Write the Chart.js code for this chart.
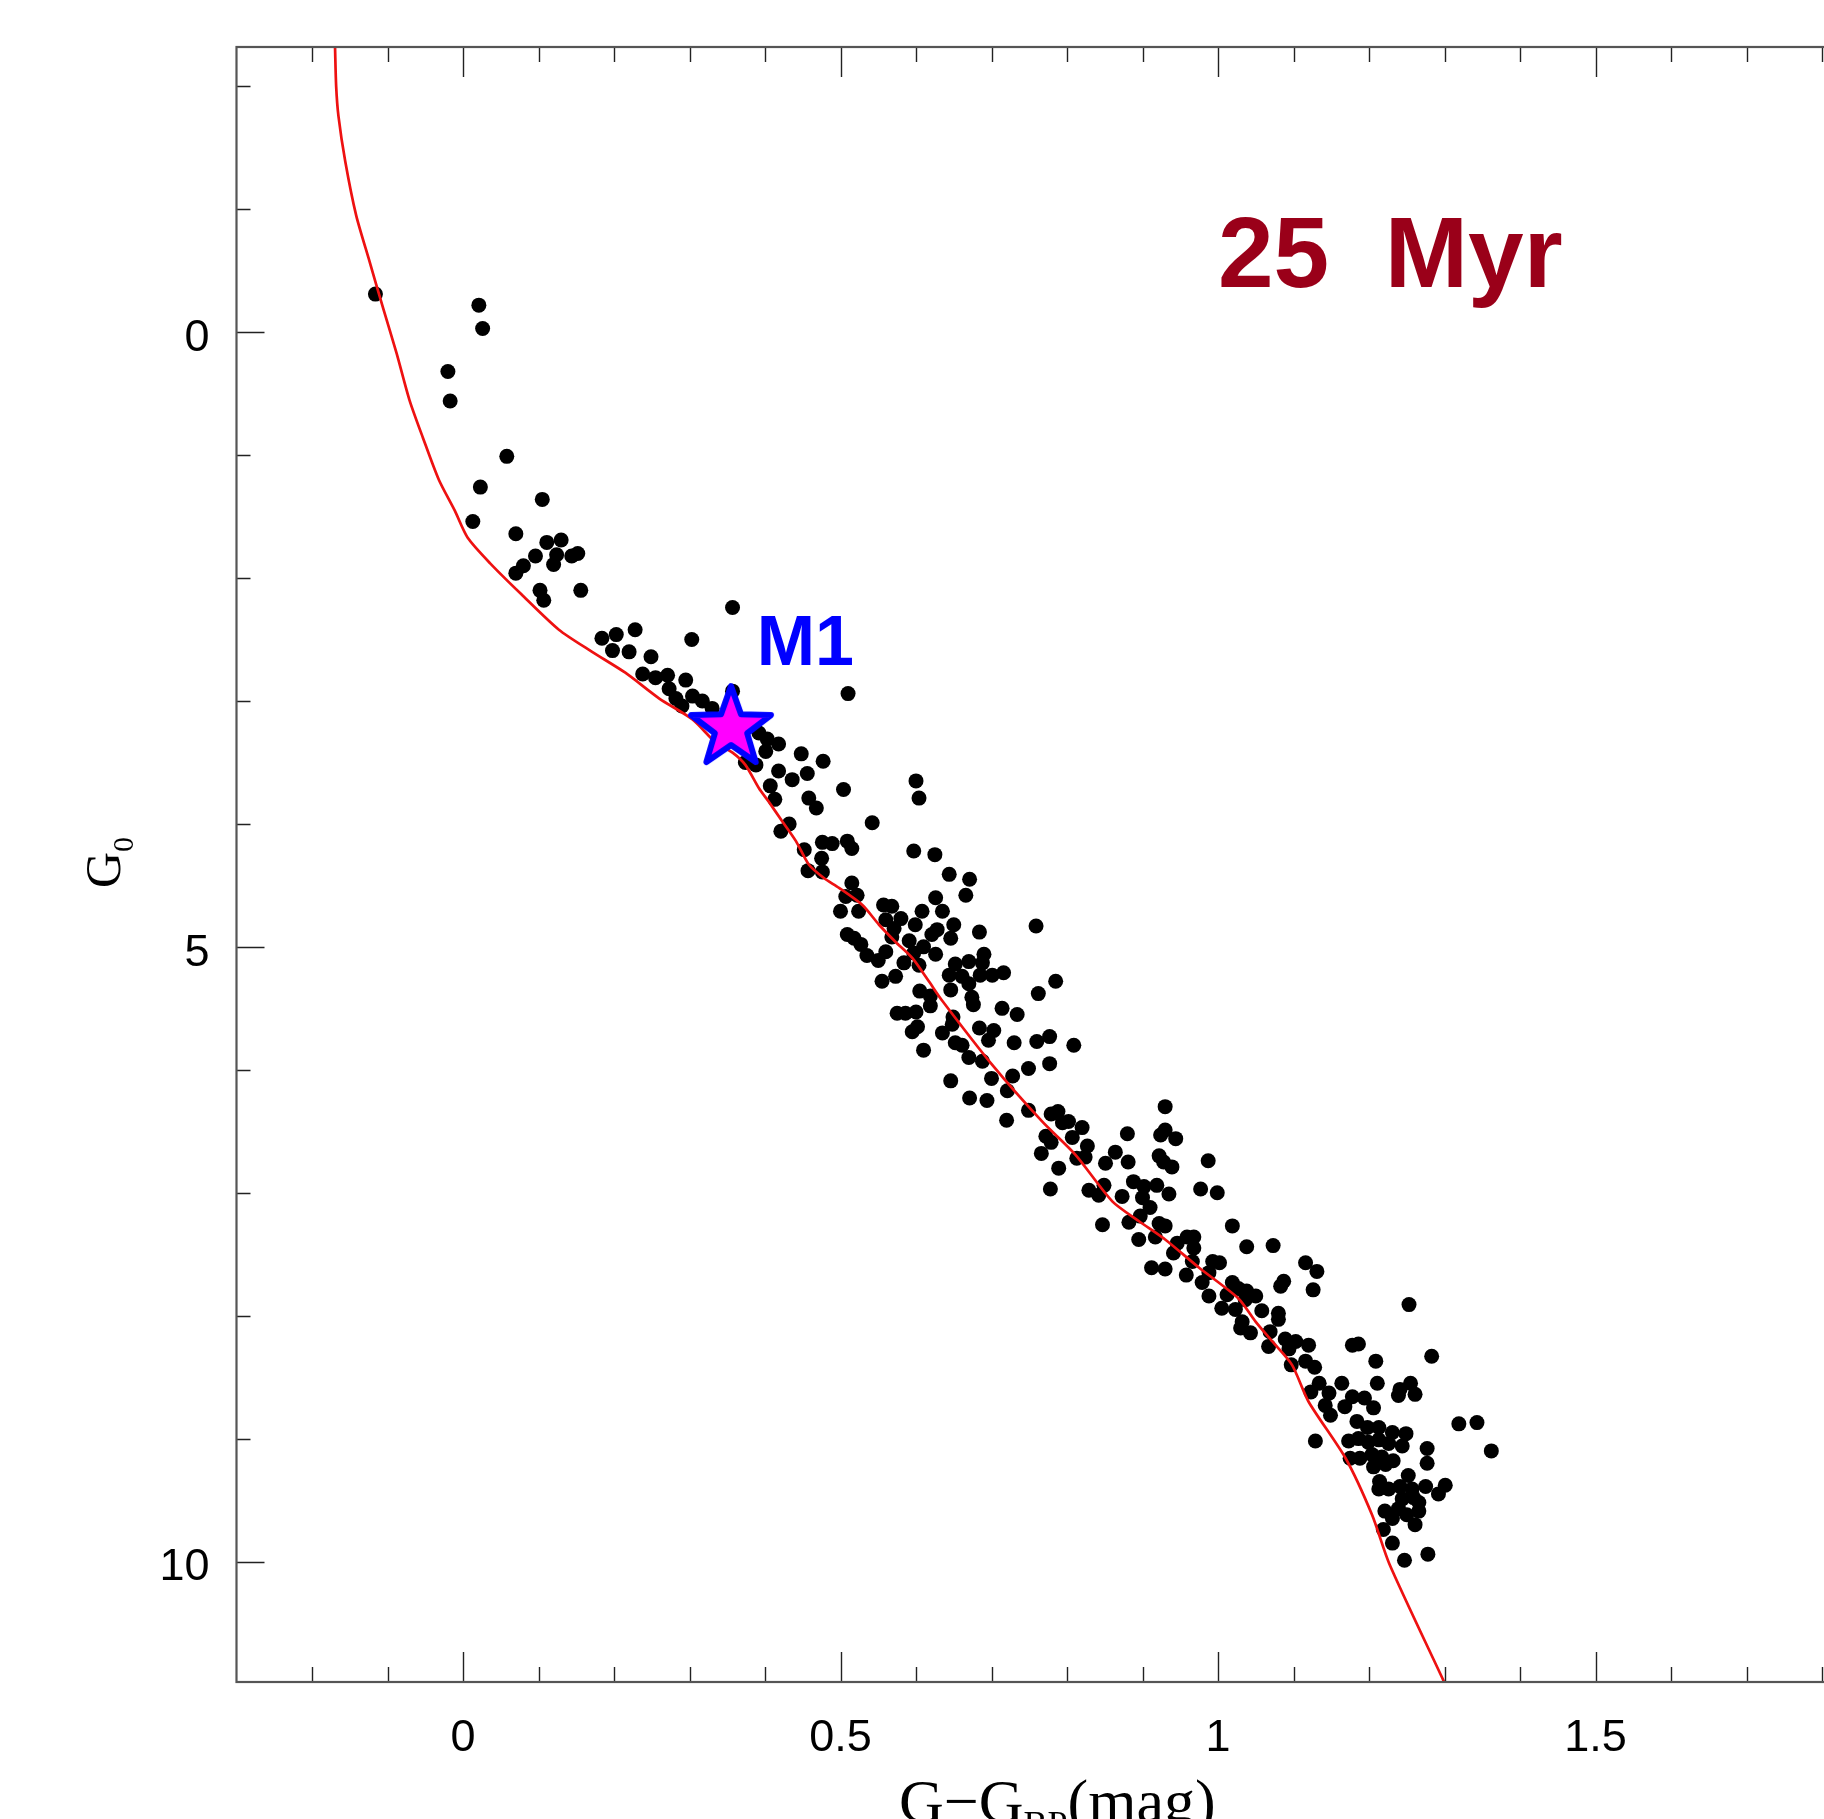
<!DOCTYPE html>
<html>
<head>
<meta charset="utf-8">
<title>25 Myr isochrone</title>
<script src="https://cdn.jsdelivr.net/npm/chart.js@4.4.1/dist/chart.umd.min.js"></script>
<style>
  html, body { margin: 0; padding: 0; background: #fff; overflow: hidden; }
  #wrap { width: 1900px; height: 1819px; }
</style>
</head>
<body>
<div id="wrap"><canvas id="cmd" width="1900" height="1819"></canvas></div>
<script>

// ================================
// Data: colour (G - G_BP) and magnitude (G_0)
// ================================

// cluster members, [colour, G0]
const members = [
  [-0.116, -0.31], [0.021, -0.22], [0.026, -0.03], [-0.020, 0.32], [-0.017, 0.56], [0.058, 1.01],
  [0.023, 1.26], [0.105, 1.36], [0.013, 1.54], [0.070, 1.64], [0.111, 1.71], [0.130, 1.69],
  [0.096, 1.82], [0.124, 1.81], [0.144, 1.82], [0.152, 1.80], [0.120, 1.89], [0.080, 1.90],
  [0.070, 1.96], [0.102, 2.10], [0.107, 2.18], [0.156, 2.10],

  [0.357, 2.24], [0.184, 2.49], [0.203, 2.46], [0.228, 2.42], [0.198, 2.59], [0.220, 2.60],
  [0.303, 2.50], [0.249, 2.64], [0.238, 2.78], [0.255, 2.81], [0.271, 2.79], [0.295, 2.83],
  [0.273, 2.90], [0.282, 2.98], [0.290, 3.04], [0.304, 2.96], [0.317, 3.00], [0.330, 3.06],
  [0.357, 2.92], [0.510, 2.94], [0.392, 3.26], [0.403, 3.31], [0.418, 3.35], [0.401, 3.41],
  [0.388, 3.52], [0.374, 3.50], [0.448, 3.43], [0.477, 3.49], [0.418, 3.57], [0.436, 3.64],
  [0.456, 3.59], [0.407, 3.69], [0.458, 3.79], [0.504, 3.72], [0.600, 3.65], [0.604, 3.79],
  [0.413, 3.80], [0.468, 3.87],

  [0.432, 4.00], [0.421, 4.06], [0.542, 3.99], [0.452, 4.21], [0.476, 4.15], [0.489, 4.16],
  [0.509, 4.14], [0.515, 4.20], [0.475, 4.28], [0.457, 4.38], [0.476, 4.39], [0.597, 4.22],
  [0.625, 4.25], [0.644, 4.41], [0.671, 4.45], [0.666, 4.58], [0.626, 4.60], [0.515, 4.48],
  [0.507, 4.59], [0.522, 4.58], [0.500, 4.71], [0.524, 4.71], [0.557, 4.66], [0.568, 4.67],
  [0.608, 4.71], [0.635, 4.71], [0.560, 4.78], [0.580, 4.77], [0.599, 4.82], [0.571, 4.85],
  [0.650, 4.82], [0.628, 4.86], [0.621, 4.90], [0.509, 4.90], [0.518, 4.93], [0.568, 4.92],
  [0.646, 4.93], [0.684, 4.88], [0.759, 4.83], [0.527, 4.98], [0.591, 4.95], [0.610, 5.00],
  [0.535, 5.07], [0.550, 5.11], [0.560, 5.04], [0.597, 5.05], [0.626, 5.06], [0.584, 5.13],
  [0.604, 5.15], [0.690, 5.06], [0.652, 5.14], [0.670, 5.12], [0.688, 5.13], [0.555, 5.28],
  [0.573, 5.24], [0.644, 5.23], [0.661, 5.24], [0.685, 5.23], [0.701, 5.23], [0.716, 5.21],
  [0.670, 5.30], [0.646, 5.35], [0.605, 5.36], [0.619, 5.40], [0.785, 5.28], [0.762, 5.38],
  [0.674, 5.41],

  [0.575, 5.54], [0.586, 5.54], [0.600, 5.53], [0.619, 5.48], [0.602, 5.65], [0.595, 5.69],
  [0.649, 5.57], [0.648, 5.63], [0.676, 5.47], [0.714, 5.50], [0.734, 5.55], [0.635, 5.70],
  [0.684, 5.66], [0.703, 5.68], [0.696, 5.76], [0.652, 5.78], [0.661, 5.80], [0.610, 5.84],
  [0.670, 5.90], [0.688, 5.93], [0.730, 5.78], [0.760, 5.77], [0.777, 5.73], [0.809, 5.80],
  [0.749, 5.99], [0.777, 5.95], [0.728, 6.05], [0.700, 6.07], [0.646, 6.09], [0.721, 6.17],
  [0.671, 6.23], [0.694, 6.25], [0.749, 6.33], [0.720, 6.41], [0.779, 6.36], [0.788, 6.34],
  [0.794, 6.43], [0.802, 6.42], [0.820, 6.47], [0.772, 6.54], [0.779, 6.59], [0.807, 6.55],
  [0.827, 6.62], [0.766, 6.68], [0.813, 6.72], [0.824, 6.71], [0.789, 6.80], [0.864, 6.67],
  [0.851, 6.76], [0.881, 6.75], [0.880, 6.52], [0.930, 6.30], [0.924, 6.53], [0.930, 6.49],
  [0.944, 6.56], [0.922, 6.70], [0.928, 6.75], [0.939, 6.79], [0.987, 6.74], [0.778, 6.97],
  [0.829, 6.98], [0.849, 6.94], [0.842, 7.02], [0.873, 7.03], [0.888, 6.91], [0.902, 6.95],
  [0.919, 6.94], [0.935, 7.01], [0.977, 6.97], [0.999, 7.00], [0.900, 7.04],

  [0.847, 7.26], [0.910, 7.12], [0.882, 7.24], [0.897, 7.19], [0.922, 7.25], [0.930, 7.27],
  [0.895, 7.38], [0.917, 7.36], [1.019, 7.27], [0.946, 7.41], [0.959, 7.36], [0.968, 7.36],
  [0.968, 7.45], [0.941, 7.49], [0.912, 7.61], [0.930, 7.62], [0.958, 7.67], [0.966, 7.56],
  [0.993, 7.56], [1.002, 7.57], [0.988, 7.65], [0.979, 7.73], [1.038, 7.44], [1.073, 7.43],
  [1.116, 7.57], [1.131, 7.64], [1.087, 7.72], [1.083, 7.76], [1.126, 7.79], [1.019, 7.73],
  [0.988, 7.84], [1.012, 7.83], [1.027, 7.78], [1.038, 7.80], [1.050, 7.84], [1.036, 7.87],
  [1.005, 7.94], [1.023, 7.95], [1.058, 7.96], [1.080, 7.98], [1.080, 8.03], [1.032, 8.05],
  [1.030, 8.10], [1.043, 8.14], [1.253, 7.91], [1.069, 8.13], [1.067, 8.25], [1.089, 8.19],
  [1.103, 8.21], [1.094, 8.27], [1.120, 8.24], [1.178, 8.24], [1.186, 8.23], [1.116, 8.37],
  [1.128, 8.42], [1.097, 8.40], [1.209, 8.37], [1.283, 8.33], [1.211, 8.55], [1.134, 8.55],
  [1.164, 8.55], [1.147, 8.63], [1.178, 8.66], [1.194, 8.67], [1.241, 8.60], [1.255, 8.55],
  [1.261, 8.64], [1.239, 8.65], [1.123, 8.62],

  [1.142, 8.73], [1.168, 8.74], [1.206, 8.75], [1.149, 8.81], [1.129, 9.02], [1.184, 8.86],
  [1.198, 8.91], [1.213, 8.91], [1.231, 8.95], [1.249, 8.96], [1.173, 9.02], [1.186, 9.00],
  [1.199, 9.03], [1.213, 9.01], [1.226, 9.04], [1.244, 9.06], [1.175, 9.16], [1.188, 9.16],
  [1.204, 9.13], [1.217, 9.15], [1.232, 9.18], [1.206, 9.23], [1.222, 9.21], [1.277, 9.08],
  [1.277, 9.20], [1.319, 8.88], [1.343, 8.87], [1.362, 9.10], [1.252, 9.30], [1.214, 9.35],
  [1.213, 9.41], [1.226, 9.41], [1.241, 9.39], [1.257, 9.41], [1.275, 9.39], [1.301, 9.38],
  [1.292, 9.45], [1.244, 9.49], [1.259, 9.48], [1.266, 9.52], [1.239, 9.57], [1.221, 9.59],
  [1.231, 9.65], [1.250, 9.62], [1.266, 9.59], [1.261, 9.70], [1.219, 9.74], [1.231, 9.85],
  [1.247, 9.99], [1.278, 9.94]
]

// 25 Myr isochrone
const isoColour = [
  -0.1695, -0.168, -0.165, -0.156, -0.1415, -0.124, -0.106, -0.088, -0.071, -0.053,
  -0.032, -0.011, 0.006, 0.036, 0.077, 0.127, 0.171, 0.215, 0.260, 0.304,
  0.335, 0.357, 0.374, 0.392, 0.405, 0.423, 0.441, 0.458, 0.478, 0.498,
  0.529, 0.551, 0.573, 0.595, 0.617, 0.635, 0.701, 0.767, 0.811, 0.860,
  0.895, 0.930, 0.975, 1.027, 1.050, 1.072, 1.098, 1.120, 1.169, 1.204,
  1.227, 1.2995
]
const isoMag = [
  -2.32, -2.00, -1.76, -1.39, -0.95, -0.58, -0.20, 0.17, 0.55, 0.86,
  1.20, 1.45, 1.67, 1.88, 2.13, 2.42, 2.60, 2.77, 2.98, 3.15,
  3.34, 3.42, 3.52, 3.71, 3.82, 3.98, 4.14, 4.33, 4.44, 4.52,
  4.66, 4.82, 4.96, 5.09, 5.28, 5.44, 5.96, 6.42, 6.69, 7.07,
  7.23, 7.38, 7.61, 7.86, 8.05, 8.21, 8.40, 8.70, 9.16, 9.62,
  10.02, 10.98
]

// the highlighted star
const m1 = [0.355, 3.22]

// axes
const xRange = [-0.3, 1.9]
const yRange = [-2.32, 10.98]
const xTickValues = [0, 0.5, 1, 1.5]
const yTickValues = [0, 5, 10]
const xMinorStep = 0.1
const yMinorStep = 1

// annotation anchors (data units, text baseline-left)
const ageLabel = "25  Myr"
const ageAt = [1.0, -0.37]
const m1Label = "M1"
const m1LabelAt = [0.389, 2.71]

// ================================
// Styling
// ================================

const sansFont = "'Liberation Sans', Arial, Helvetica, sans-serif"
const serifFont = "'Liberation Serif', 'Times New Roman', serif"

// five pointed star used as the marker for M1
function makeStar(outerR, innerR, lineW) {
    const size = Math.ceil(2 * outerR + 2 * lineW + 6)
    const c = document.createElement("canvas")
    c.width = size
    c.height = size
    const g = c.getContext("2d")
    g.translate(size / 2, size / 2)
    g.beginPath()
    for (let i = 0; i < 10; i++) {
        const r = i % 2 ? innerR : outerR
        const a = -Math.PI / 2 + i * Math.PI / 5
        g.lineTo(r * Math.cos(a), r * Math.sin(a))
    }
    g.closePath()
    g.fillStyle = "#ff00ff"
    g.fill()
    g.lineWidth = lineW
    g.lineJoin = "round"
    g.strokeStyle = "#0000ff"
    g.stroke()
    return c
}

function isMultiple(v, step) {
    const k = Math.round(v / step)
    return Math.abs(v - k * step) < 1e-6
}

function fmtTick(v) {
    return String(Math.round(v * 10) / 10)
}

// ================================
// Frame, inward ticks, axis titles and labels
// ================================

const frameAndLabels = {
    id: "frameAndLabels",
    afterDraw(chart) {
        const { ctx, chartArea: a, scales } = chart
        const x = scales.x
        const y = scales.y

        ctx.save()

        // tick marks on all four sides
        ctx.strokeStyle = "#222"
        ctx.lineWidth = 1.4
        ctx.beginPath()
        for (let i = 0; ; i++) {
            const v = Math.ceil(xRange[0] / xMinorStep) * xMinorStep + i * xMinorStep
            if (v > xRange[1] + 1e-9) break
            const px = Math.round(x.getPixelForValue(v)) + 0.5
            const len = isMultiple(v, 0.5) ? 30 : 15
            ctx.moveTo(px, a.bottom)
            ctx.lineTo(px, a.bottom - len)
            ctx.moveTo(px, a.top)
            ctx.lineTo(px, a.top + len)
        }
        for (let i = 0; ; i++) {
            const v = Math.ceil(yRange[0] / yMinorStep) * yMinorStep + i * yMinorStep
            if (v > yRange[1] + 1e-9) break
            const py = Math.round(y.getPixelForValue(v)) + 0.5
            const len = isMultiple(v, 5) ? 28 : 14
            ctx.moveTo(a.left, py)
            ctx.lineTo(a.left + len, py)
            ctx.moveTo(a.right, py)
            ctx.lineTo(a.right - len, py)
        }
        ctx.stroke()

        // frame
        ctx.strokeStyle = "#555"
        ctx.lineWidth = 2.2
        ctx.strokeRect(a.left, a.top, a.right - a.left, a.bottom - a.top)

        // y title: G with subscript 0, rotated
        ctx.fillStyle = "#000"
        ctx.textAlign = "left"
        ctx.textBaseline = "alphabetic"
        ctx.save()
        ctx.translate(120, 888)
        ctx.rotate(-Math.PI / 2)
        ctx.font = "50px " + serifFont
        ctx.fillText("G", 0, 0)
        const gw = ctx.measureText("G").width
        ctx.font = "30px " + serifFont
        ctx.fillText("0", gw, 13)
        ctx.restore()

        // x title: G-G_BP(mag)
        let tx = 899
        const ty = 1822
        ctx.font = "62px " + serifFont
        ctx.fillText("G\u2212G", tx, ty)
        tx += ctx.measureText("G\u2212G").width
        ctx.font = "36px " + serifFont
        ctx.fillText("BP", tx, ty + 14)
        tx += ctx.measureText("BP").width
        ctx.font = "62px " + serifFont
        ctx.fillText("(mag)", tx, ty)

        // age of the isochrone
        ctx.fillStyle = "#9a0019"
        ctx.font = "bold 100px " + sansFont
        ctx.fillText(ageLabel, x.getPixelForValue(ageAt[0]), y.getPixelForValue(ageAt[1]))

        // label next to M1
        ctx.fillStyle = "#0000ff"
        ctx.font = "bold 70px " + sansFont
        ctx.fillText(m1Label, x.getPixelForValue(m1LabelAt[0]), y.getPixelForValue(m1LabelAt[1]))

        ctx.restore()
    }
}

// ================================
// Chart
// ================================

const tickFont = { family: sansFont, size: 45 }

new Chart(document.getElementById("cmd"), {
    type: "scatter",
    data: {
        datasets: [
            {
                label: "M1",
                data: [{ x: m1[0], y: m1[1] }],
                pointStyle: makeStar(42, 17, 6),
                pointRadius: 42,
                order: 0
            },
            {
                label: "isochrone",
                data: isoColour.map((c, i) => ({ x: c, y: isoMag[i] })),
                showLine: true,
                borderColor: "#ee1111",
                borderWidth: 2.7,
                pointRadius: 0,
                tension: 0.25,
                fill: false,
                order: 1
            },
            {
                label: "members",
                data: members.map(p => ({ x: p[0], y: p[1] })),
                backgroundColor: "#000",
                borderWidth: 0,
                pointRadius: 7.5,
                order: 2
            }
        ]
    },
    options: {
        responsive: false,
        animation: false,
        events: [],
        // the big star marker must not push the plot edges inward
        layout: { autoPadding: false, padding: { left: 0, top: 47, right: 2.5, bottom: 0 } },
        plugins: {
            legend: { display: false },
            tooltip: { enabled: false }
        },
        scales: {
            x: {
                type: "linear",
                min: xRange[0],
                max: xRange[1],
                grid: { display: false, drawTicks: false, tickLength: 0 },
                border: { display: false },
                afterBuildTicks: s => { s.ticks = xTickValues.map(v => ({ value: v })) },
                // fixed axis height, no extra room for overhanging labels
                afterFit: s => {
                    s.height = 137
                    s.paddingLeft = 0
                    s.paddingRight = 0
                },
                ticks: {
                    autoSkip: false,
                    maxRotation: 0,
                    padding: 30,
                    color: "#000",
                    font: tickFont,
                    callback: v => fmtTick(v)
                }
            },
            y: {
                type: "linear",
                reverse: true,
                min: yRange[0],
                max: yRange[1],
                grid: { display: false, drawTicks: false, tickLength: 0 },
                border: { display: false },
                afterBuildTicks: s => { s.ticks = yTickValues.map(v => ({ value: v })) },
                afterFit: s => {
                    s.width = 236.5
                    s.paddingTop = 0
                    s.paddingBottom = 0
                },
                ticks: {
                    autoSkip: false,
                    padding: 27,
                    labelOffset: 6.5,
                    color: "#000",
                    font: tickFont,
                    callback: v => fmtTick(v)
                }
            }
        }
    },
    plugins: [frameAndLabels]
})
</script>
</body>
</html>
